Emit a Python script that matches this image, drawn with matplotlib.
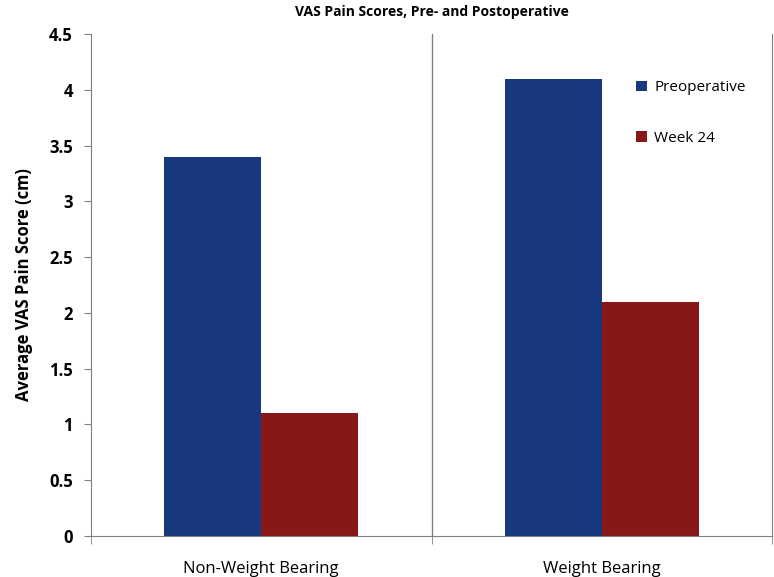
import numpy as np
import matplotlib.pyplot as plt

categories = ['Non-Weight Bearing', 'Weight Bearing']
preoperative = [3.4, 4.1]
week24 = [1.1, 2.1]
series_names = ['Preoperative', 'Week 24']
colors = ['#17387F', '#881717']

plt.rcParams['font.family'] = ['Open Sans', 'DejaVu Sans']

fig = plt.figure(figsize=(7.74, 5.77), dpi=100)
ax = fig.add_axes([0.1176, 0.0711, 0.8798, 0.8699])

x = np.arange(len(categories))
w = 0.285
ax.bar(x - w / 2, preoperative, w, color=colors[0], label=series_names[0])
ax.bar(x + w / 2, week24, w, color=colors[1], label=series_names[1])

ax.set_xlim(-0.5, 1.5)
ax.set_ylim(0, 4.5)
ax.set_yticks(np.arange(0, 4.51, 0.5))
ax.set_yticklabels(['0', '0.5', '1', '1.5', '2', '2.5', '3', '3.5', '4', '4.5'],
                   fontsize=12, fontweight='bold')
ax.set_xticks(x)
ax.set_xticklabels(categories, fontsize=12)
ax.set_xticks([-0.5, 0.5, 1.5], minor=True)
ax.tick_params(axis='x', which='major', length=0, pad=18)
ax.tick_params(axis='x', which='minor', length=6, color='#808080', direction='out')
ax.tick_params(axis='y', length=5, color='#808080', direction='out', pad=8)

ax.axvline(0.5, color='#808080', lw=1)
for s in ['left', 'right', 'bottom']:
    ax.spines[s].set_color('#808080')
ax.spines['top'].set_visible(False)

ax.set_ylabel('Average VAS Pain Score (cm)', fontsize=12, fontweight='bold', labelpad=12)
ax.set_title('VAS Pain Scores, Pre- and Postoperative', fontsize=10, fontweight='bold', pad=13)

ax.legend(frameon=False, loc='upper left', bbox_to_anchor=(0.78, 0.935),
          handlelength=0.7, handleheight=0.7, handletextpad=0.5,
          labelspacing=2.3, fontsize=11)

fig.savefig('out.png', dpi=100)
